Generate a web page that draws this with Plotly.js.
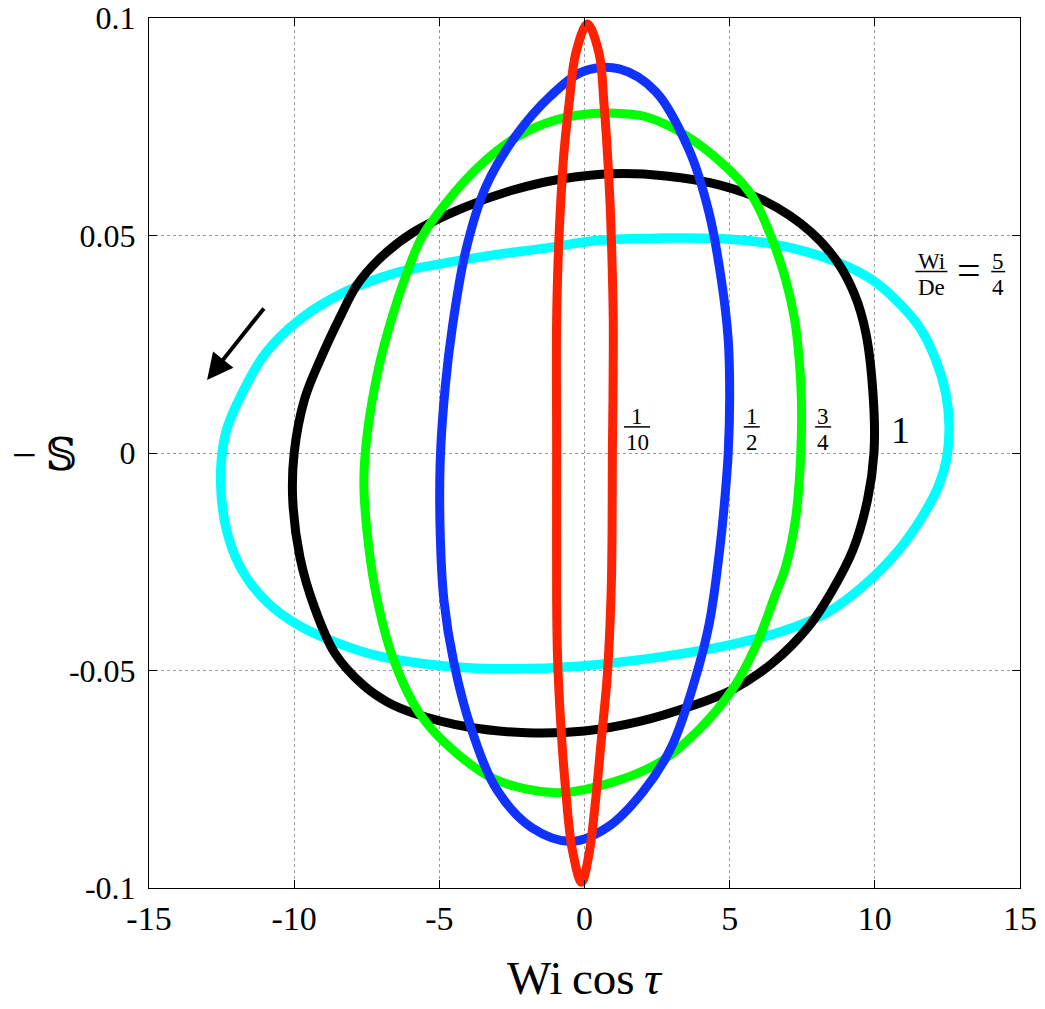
<!DOCTYPE html>
<html>
<head>
<meta charset="utf-8">
<script src="https://cdn.plot.ly/plotly-3.0.1.min.js"></script>
<style>html,body{margin:0;padding:0;background:#fff;}#chart{width:1045px;height:1009px;}</style>
</head>
<body>
<div id="chart"></div>
<script>
// Wi/De = 1/10
const redX = [0.96, 0.98, 0.99, 0.94, 0.88, 0.79, 0.67, 0.50, 0.10, -0.30, -0.53, -0.71, -0.82, -0.90, -0.96, -0.96, -0.96, -0.93, -0.82, -0.65, -0.42, -0.10, 0.16, 0.36, 0.58, 0.79, 0.92, 0.95, 0.96];
const redY = [0.0, 0.0122, 0.0306, 0.0460, 0.0574, 0.0689, 0.0804, 0.0919, 0.0986, 0.0919, 0.0804, 0.0689, 0.0574, 0.0460, 0.0306, 0.0, -0.0337, -0.0467, -0.0620, -0.0774, -0.0912, -0.0987, -0.0920, -0.0812, -0.0659, -0.0506, -0.0314, -0.0176, 0.0];
// Wi/De = 1/2
const blueX = [4.95, 5.00, 4.95, 4.72, 4.29, 3.60, 2.45, 1.20, 0.00, -1.20, -2.40, -3.40, -4.09, -4.55, -4.80, -4.97, -4.97, -4.84, -4.50, -3.90, -3.00, -1.80, -0.42, 0.80, 2.00, 3.00, 3.80, 4.30, 4.66, 4.84, 4.95];
const blueY = [0.0, 0.0130, 0.0260, 0.0395, 0.0552, 0.0697, 0.0831, 0.0883, 0.0878, 0.0819, 0.0726, 0.0612, 0.0465, 0.0290, 0.0150, -0.0020, -0.0184, -0.0340, -0.0482, -0.0634, -0.0776, -0.0862, -0.0893, -0.0860, -0.0780, -0.0675, -0.0522, -0.0391, -0.0220, -0.0100, 0.0];
// Wi/De = 3/4
const greenX = [7.45, 7.47, 7.40, 7.24, 6.93, 6.47, 5.78, 4.86, 3.37, 2.11, 1.07, -0.19, -1.34, -2.49, -3.63, -4.78, -5.59, -6.16, -6.62, -7.08, -7.48, -7.60, -7.42, -7.14, -6.62, -5.70, -4.55, -3.06, -0.99, 0.50, 2.57, 3.94, 5.09, 5.90, 6.56, 6.93, 7.28, 7.45];
const greenY = [0.0, 0.0123, 0.0210, 0.0306, 0.0398, 0.0490, 0.0590, 0.0659, 0.0735, 0.0773, 0.0781, 0.0777, 0.0758, 0.0720, 0.0659, 0.0574, 0.0498, 0.0406, 0.0314, 0.0199, 0.0046, -0.0069, -0.0222, -0.0337, -0.0467, -0.0597, -0.0682, -0.0751, -0.0781, -0.0766, -0.0712, -0.0636, -0.0544, -0.0444, -0.0328, -0.0261, -0.0146, 0.0];
// Wi/De = 1
const blackX = [9.97, 9.95, 9.69, 9.30, 8.70, 7.80, 6.24, 4.60, 2.80, 1.00, -0.80, -2.49, -4.20, -5.93, -7.10, -7.85, -8.40, -9.10, -9.65, -10.00, -10.05, -9.80, -9.30, -8.60, -7.60, -6.80, -5.93, -4.00, -2.00, 0.00, 1.90, 3.70, 5.09, 6.47, 7.73, 8.50, 9.25, 9.75, 9.97];
const blackY = [0.0, 0.0123, 0.0276, 0.0365, 0.0440, 0.0508, 0.0578, 0.0617, 0.0637, 0.0642, 0.0630, 0.0604, 0.0563, 0.0506, 0.0444, 0.0385, 0.0315, 0.0215, 0.0122, 0.0, -0.0107, -0.0240, -0.0355, -0.0460, -0.0535, -0.0572, -0.0597, -0.0630, -0.0643, -0.0639, -0.0617, -0.0581, -0.0544, -0.0483, -0.0398, -0.0320, -0.0222, -0.0107, 0.0];
// Wi/De = 5/4
const cyanX = [12.56, 12.44, 12.10, 11.52, 10.72, 9.91, 8.77, 7.62, 6.24, 4.52, 2.80, 0.50, -1.34, -3.06, -4.78, -6.50, -8.23, -9.83, -10.98, -11.79, -12.36, -12.53, -12.30, -11.75, -10.90, -9.80, -8.50, -7.08, -4.78, -2.49, -0.19, 2.80, 5.09, 6.81, 8.40, 9.70, 10.80, 11.60, 12.20, 12.48, 12.56];
const cyanY = [0.0061, 0.0138, 0.0214, 0.0291, 0.0352, 0.0398, 0.0437, 0.0463, 0.0483, 0.0493, 0.0494, 0.0489, 0.0471, 0.0456, 0.0437, 0.0414, 0.0371, 0.0306, 0.0230, 0.0138, 0.0046, -0.0069, -0.0185, -0.0275, -0.0345, -0.0398, -0.0437, -0.0467, -0.0490, -0.0496, -0.0490, -0.0467, -0.0440, -0.0410, -0.0365, -0.0300, -0.0225, -0.0150, -0.0075, -0.0010, 0.0061];

const xTickVals = [-15, -10, -5, 0, 5, 10, 15];
const xTickText = ['-15', '-10', '-5', '0', '5', '10', '15'];
const yTickVals = [-0.1, -0.05, 0, 0.05, 0.1];
const yTickText = ['-0.1', '-0.05', '0', '0.05', '0.1'];

const serif = 'Liberation Serif, DejaVu Serif, serif';

function loop(x, y, color, w) {
  return {x: x, y: y, type: 'scatter', mode: 'lines',
    line: {color: color, width: w, shape: 'spline', smoothing: 1}, hoverinfo: 'skip', showlegend: false};
}

const traces = [
  loop(cyanX, cyanY, '#00ffff', 9.5),
  loop(blackX, blackY, '#000000', 9),
  loop(greenX, greenY, '#00ff00', 9),
  loop(blueX, blueY, '#0f32ff', 9),
  loop(redX, redY, '#ff2200', 9)
];

const annotations = [];
const shapes = [];
function frac(x, y, num, den, half, size) {
  annotations.push({x: x, y: y, xref: 'x', yref: 'y', text: num, showarrow: false,
    xanchor: 'center', yanchor: 'bottom', yshift: -4, font: {family: serif, size: size, color: '#000'}});
  annotations.push({x: x, y: y, xref: 'x', yref: 'y', text: den, showarrow: false,
    xanchor: 'center', yanchor: 'top', yshift: -1, font: {family: serif, size: size, color: '#000'}});
  shapes.push({type: 'line', xref: 'x', yref: 'y', xsizemode: 'pixel', ysizemode: 'pixel',
    xanchor: x, yanchor: y, x0: -half, x1: half, y0: 0, y1: 0, line: {color: '#000', width: 1.5}});
}
frac(1.81, 0.0060, '1', '10', 13, 23);
frac(5.76, 0.0060, '1', '2', 8, 23);
frac(8.22, 0.0060, '3', '4', 8, 23);
annotations.push({x: 10.89, y: 0.0053, xref: 'x', yref: 'y', text: '1', showarrow: false,
  xanchor: 'center', yanchor: 'middle', font: {family: serif, size: 38, color: '#000'}});
frac(11.95, 0.0417, 'Wi', 'De', 16, 23);
annotations.push({x: 13.25, y: 0.0417, xref: 'x', yref: 'y', text: '=', showarrow: false,
  xanchor: 'center', yanchor: 'middle', yshift: 2, font: {family: serif, size: 42, color: '#000'}});
frac(14.25, 0.0417, '5', '4', 7, 23);

// direction arrow
annotations.push({x: -13.0, y: 0.0168, xref: 'x', yref: 'y', ax: 58, ay: -73, axref: 'pixel', ayref: 'pixel',
  text: '', showarrow: true, arrowhead: 2, arrowsize: 1.3, arrowwidth: 4, arrowcolor: '#000'});

// axis titles
annotations.push({x: 0.5, y: 0, xref: 'paper', yref: 'paper', text: 'Wi\u2009cos\u2009<i>τ</i>', showarrow: false,
  xanchor: 'center', yanchor: 'bottom', yshift: -118, font: {family: serif, size: 47, color: '#000'}});
annotations.push({x: 0, y: 0.5, xref: 'paper', yref: 'paper', text: '\u2212\u2009\ud835\udd4a', showarrow: false,
  xanchor: 'center', yanchor: 'middle', xshift: -105, yshift: -2, font: {family: serif, size: 44, color: '#000'}});

const axisCommon = {
  showline: true, linecolor: '#000', linewidth: 1, mirror: 'ticks',
  ticks: 'inside', ticklen: 8, tickwidth: 1, tickcolor: '#000',
  showgrid: true, gridcolor: '#9a9a9a', griddash: 'dot', gridwidth: 1,
  zeroline: false
};

const layout = {
  width: 1045, height: 1009,
  margin: {l: 149, r: 25, t: 18, b: 121},
  paper_bgcolor: '#fff', plot_bgcolor: '#fff',
  showlegend: false,
  xaxis: Object.assign({}, axisCommon, {range: [-15, 15], tickmode: 'array', tickvals: xTickVals, ticktext: xTickText,
    ticklabelstandoff: 0, tickfont: {family: serif, size: 34, color: '#000'}}),
  yaxis: Object.assign({}, axisCommon, {range: [-0.1, 0.1], tickmode: 'array', tickvals: yTickVals, ticktext: yTickText,
    ticklabelstandoff: 6, tickfont: {family: serif, size: 32, color: '#000'}}),
  annotations: annotations,
  shapes: shapes
};

Plotly.newPlot('chart', traces, layout, {staticPlot: true, displayModeBar: false});
</script>
</body>
</html>
